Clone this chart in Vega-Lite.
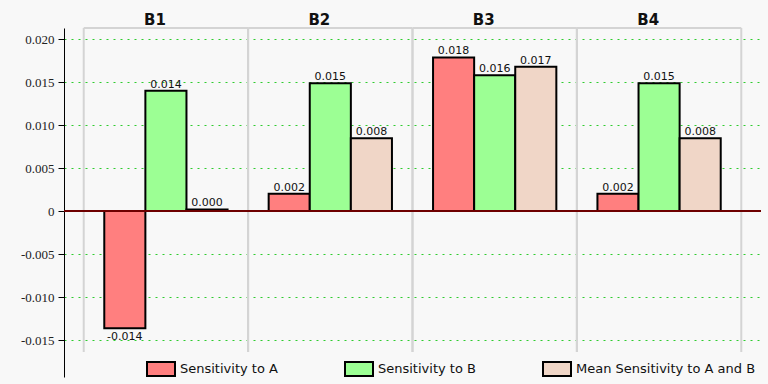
{
  "$schema": "https://vega.github.io/schema/vega-lite/v6.json",
  "width": 697,
  "height": 349,
  "autosize": {"type": "none"},
  "padding": {"left": 64, "top": 28, "right": 7, "bottom": 7},
  "background": "#f8f8f8",
  "datasets": {
    "bars": [
      {"group": "B1", "series": "Sensitivity to A", "value": -0.01364},
      {"group": "B1", "series": "Sensitivity to B", "value": 0.01399},
      {"group": "B1", "series": "Mean Sensitivity to A and B", "value": 0.0002},
      {"group": "B2", "series": "Sensitivity to A", "value": 0.00201},
      {"group": "B2", "series": "Sensitivity to B", "value": 0.01488},
      {"group": "B2", "series": "Mean Sensitivity to A and B", "value": 0.00846},
      {"group": "B3", "series": "Sensitivity to A", "value": 0.01787},
      {"group": "B3", "series": "Sensitivity to B", "value": 0.0158},
      {"group": "B3", "series": "Mean Sensitivity to A and B", "value": 0.01678},
      {"group": "B4", "series": "Sensitivity to A", "value": 0.00201},
      {"group": "B4", "series": "Sensitivity to B", "value": 0.01488},
      {"group": "B4", "series": "Mean Sensitivity to A and B", "value": 0.00846}
    ],
    "groups": [
      {"group": "B1"}, {"group": "B2"}, {"group": "B3"}, {"group": "B4"}
    ]
  },
  "data": {"name": "bars"},
  "layer": [
    {
      "data": {"name": "groups"},
      "mark": {"type": "rule", "color": "#d4d4d4", "strokeWidth": 2},
      "encoding": {
        "x": {"field": "group", "type": "nominal", "bandPosition": 0},
        "y": {"datum": 0.0213},
        "y2": {"datum": -0.0164}
      }
    },
    {
      "data": {"name": "groups"},
      "mark": {"type": "rule", "color": "#d4d4d4", "strokeWidth": 2},
      "encoding": {
        "x": {"field": "group", "type": "nominal", "bandPosition": 1},
        "y": {"datum": 0.0213},
        "y2": {"datum": -0.0164}
      }
    },
    {
      "data": {"name": "groups"},
      "mark": {"type": "rect", "fill": null, "stroke": "#d4d4d4", "strokeWidth": 2},
      "encoding": {
        "x": {"field": "group", "type": "nominal"},
        "y": {"datum": 0.0213},
        "y2": {"datum": 0.0213}
      }
    },
    {
      "mark": {"type": "bar", "stroke": "#000000", "strokeWidth": 2, "opacity": 1},
      "encoding": {
        "x": {
          "field": "group",
          "type": "nominal",
          "scale": {"paddingInner": 0, "paddingOuter": 0.12},
          "axis": {
            "orient": "top",
            "title": null,
            "domain": false,
            "ticks": false,
            "tickSize": 0,
            "grid": false,
            "labelAngle": 0,
            "labelBaseline": "alphabetic",
            "labelPadding": 4,
            "labelFont": "DejaVu Sans",
            "labelFontWeight": "bold",
            "labelFontSize": 15,
            "labelColor": "#111111"
          }
        },
        "xOffset": {
          "field": "series",
          "type": "nominal",
          "scale": {
            "domain": ["Sensitivity to A", "Sensitivity to B", "Mean Sensitivity to A and B"],
            "paddingInner": 0,
            "paddingOuter": 0.5
          }
        },
        "y": {
          "field": "value",
          "type": "quantitative",
          "scale": {"domain": [-0.0193, 0.0213], "nice": false, "zero": false},
          "axis": {
            "title": null,
            "values": [-0.015, -0.01, -0.005, 0, 0.005, 0.01, 0.015, 0.02],
            "format": ".3f",
            "labelExpr": "datum.value === 0 ? '0' : datum.label",
            "labelFont": "Liberation Serif, DejaVu Serif, serif",
            "labelFontSize": 13,
            "labelColor": "#222222",
            "labelPadding": 4,
            "tickSize": 6,
            "tickColor": "#000000",
            "domainColor": "#000000",
            "domainWidth": 1,
            "grid": true,
            "gridColor": "#2ecc2e",
            "gridDash": [2, 5],
            "gridWidth": 1
          }
        },
        "color": {
          "field": "series",
          "type": "nominal",
          "scale": {
            "domain": ["Sensitivity to A", "Sensitivity to B", "Mean Sensitivity to A and B"],
            "range": ["#ff7f7f", "#9cff94", "#f0d6c7"]
          },
          "legend": {
            "title": null,
            "orient": "none",
            "direction": "horizontal",
            "legendX": 82,
            "legendY": 326,
            "padding": 0,
            "symbolType": "M-1,-0.5H1V0.5H-1Z",
            "symbolSize": 784,
            "symbolStrokeColor": "#000000",
            "symbolStrokeWidth": 2,
            "symbolOpacity": 1,
            "labelFont": "DejaVu Sans",
            "labelFontSize": 13,
            "labelColor": "#111111",
            "labelOffset": 4,
            "labelLimit": 400,
            "columnPadding": 63
          }
        }
      }
    },
    {
      "mark": {"type": "rule", "color": "#6e0000", "strokeWidth": 2},
      "encoding": {"y": {"datum": 0}}
    },
    {
      "transform": [{"filter": "datum.value >= 0"}],
      "mark": {"type": "text", "baseline": "alphabetic", "dy": -3, "font": "DejaVu Sans", "fontSize": 11, "color": "#111111"},
      "encoding": {
        "x": {"field": "group", "type": "nominal"},
        "xOffset": {"field": "series", "type": "nominal"},
        "y": {"field": "value", "type": "quantitative"},
        "text": {"field": "value", "type": "quantitative", "format": ".3f"}
      }
    },
    {
      "transform": [{"filter": "datum.value < 0"}],
      "mark": {"type": "text", "baseline": "top", "dy": 3, "font": "DejaVu Sans", "fontSize": 11, "color": "#111111"},
      "encoding": {
        "x": {"field": "group", "type": "nominal"},
        "xOffset": {"field": "series", "type": "nominal"},
        "y": {"field": "value", "type": "quantitative"},
        "text": {"field": "value", "type": "quantitative", "format": ".3f"}
      }
    }
  ],
  "config": {
    "view": {"stroke": null},
    "locale": {
      "number": {"decimal": ".", "thousands": ",", "grouping": [3], "currency": ["$", ""], "minus": "-"}
    }
  }
}
